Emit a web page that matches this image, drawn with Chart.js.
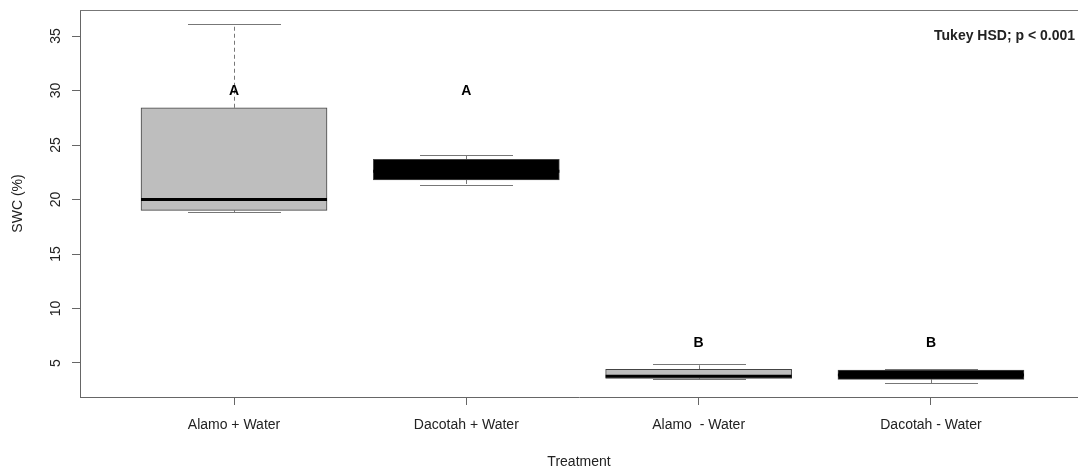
<!DOCTYPE html>
<html>
<head>
<meta charset="utf-8">
<script src="https://cdn.jsdelivr.net/npm/chart.js@4/dist/chart.umd.min.js"></script>
<style>
  html, body { margin: 0; padding: 0; background: #fff; }
  #wrap { width: 1078px; height: 472px; }
</style>
</head>
<body>
<div id="wrap"><canvas id="myChart"></canvas></div>
<script>
// treatments and their box statistics (SWC %)
const treatments = ['Alamo + Water', 'Dacotah + Water', 'Alamo  - Water', 'Dacotah - Water'];
const whiskerLow = [18.88, 21.36, 3.52, 3.17];
const quartile1  = [19.0, 21.79, 3.59, 3.5];
const medians    = [20.0, 22.6, 3.78, 3.9];
const quartile3  = [28.42, 23.68, 4.42, 4.36];
const whiskerHigh = [36.1, 24.08, 4.88, 4.42];
// Tukey groups and where their letters sit
const groupLetters = ['A', 'A', 'B', 'B'];
const letterY = [29.9, 29.9, 6.8, 6.8];
const yTicks = [5, 10, 15, 20, 25, 30, 35];

const boxFill = ['#bebebe', '#000000', '#bebebe', '#000000'];
const fontFamily = '"Liberation Sans", Arial, Helvetica, sans-serif';

const boxParts = {
  id: 'boxParts',
  beforeDatasetsDraw(chart) {
    const ctx = chart.ctx;
    const xs = chart.scales.x, ys = chart.scales.y;
    const meta = chart.getDatasetMeta(0);
    ctx.save();
    treatments.forEach(function(t, i){
      const x = Math.round(xs.getPixelForValue(i + 1)) + 0.5;
      const half = meta.data[i].width / 2;
      const cap = half / 2;
      const hi = Math.round(ys.getPixelForValue(whiskerHigh[i])) + 0.5;
      const lo = Math.round(ys.getPixelForValue(whiskerLow[i])) + 0.5;
      const q3 = ys.getPixelForValue(quartile3[i]);
      const q1 = ys.getPixelForValue(quartile1[i]);
      ctx.strokeStyle = '#777';
      ctx.lineWidth = 1;
      // dashed whiskers
      ctx.setLineDash([4, 3]);
      ctx.beginPath();
      ctx.moveTo(x, q3); ctx.lineTo(x, hi);
      ctx.moveTo(x, q1); ctx.lineTo(x, lo);
      ctx.stroke();
      // staples
      ctx.setLineDash([]);
      ctx.beginPath();
      ctx.moveTo(x - cap, hi); ctx.lineTo(x + cap, hi);
      ctx.moveTo(x - cap, lo); ctx.lineTo(x + cap, lo);
      ctx.stroke();
    });
    ctx.restore();
  },
  afterDatasetsDraw(chart) {
    const ctx = chart.ctx;
    const xs = chart.scales.x, ys = chart.scales.y;
    const area = chart.chartArea;
    const meta = chart.getDatasetMeta(0);
    ctx.save();
    treatments.forEach(function(t, i){
      const x = xs.getPixelForValue(i + 1);
      const half = meta.data[i].width / 2;
      const m = ys.getPixelForValue(medians[i]);
      ctx.strokeStyle = '#000';
      ctx.lineWidth = 3;
      ctx.beginPath();
      ctx.moveTo(x - half, m); ctx.lineTo(x + half, m);
      ctx.stroke();
      // group letter
      ctx.fillStyle = '#000';
      ctx.font = 'bold 14px ' + fontFamily;
      ctx.textAlign = 'center';
      ctx.textBaseline = 'middle';
      ctx.fillText(groupLetters[i], x, ys.getPixelForValue(letterY[i]));
    });
    ctx.fillStyle = '#222';
    ctx.font = 'bold 14px ' + fontFamily;
    ctx.textAlign = 'right';
    ctx.textBaseline = 'middle';
    ctx.fillText('Tukey HSD; p < 0.001', area.right - 3, area.top + 26);
    // plot frame
    ctx.strokeStyle = '#777';
    ctx.lineWidth = 1;
    ctx.beginPath();
    ctx.moveTo(area.left, area.top + 0.5);
    ctx.lineTo(area.right, area.top + 0.5);
    ctx.stroke();
    ctx.restore();
  }
};

window.addEventListener('load', function(){
  let ctx = document.getElementById('myChart');
  let myChart = new Chart(ctx, {
    type: 'bar',
    data: {
      datasets: [{
        data: treatments.map((t, i) => ({ x: i + 1, y: [quartile1[i], quartile3[i]] })),
        backgroundColor: boxFill,
        borderColor: '#444',
        borderWidth: 1,
        borderSkipped: false,
        barThickness: 186
      }]
    },
    plugins: [boxParts],
    options: {
      responsive: true,
      maintainAspectRatio: false,
      animation: false,
      layout: { padding: { top: 10, right: 0, left: 0, bottom: 0 } },
      plugins: {
        legend: { display: false },
        tooltip: { enabled: false }
      },
      scales: {
        x: {
          type: 'linear',
          offset: false,
          min: 0.337,
          max: 4.633,
          afterFit: function(scale){
            scale.height = 75;
            scale.paddingLeft = 0;
            scale.paddingRight = 0;
          },
          afterBuildTicks: function(scale){
            scale.ticks = treatments.map((t, i) => ({ value: i + 1 }));
          },
          ticks: {
            autoSkip: false,
            maxRotation: 0,
            padding: 12,
            color: '#222',
            font: { family: fontFamily, size: 14 },
            callback: function(v){ return treatments[v - 1]; }
          },
          grid: { drawOnChartArea: false, drawTicks: true, tickLength: 8, color: '#666', offset: false },
          border: { display: true, color: '#666' },
          title: {
            display: true,
            text: 'Treatment',
            color: '#222',
            font: { family: fontFamily, size: 14 },
            padding: { top: 0, bottom: 1 }
          }
        },
        y: {
          min: 1.88,
          max: 37.39,
          afterFit: function(scale){
            scale.width = 80;
            scale.paddingTop = 0;
            scale.paddingBottom = 0;
          },
          afterBuildTicks: function(scale){
            scale.ticks = yTicks.map(v => ({ value: v }));
          },
          ticks: {
            minRotation: 90,
            maxRotation: 90,
            crossAlign: 'center',
            padding: 8,
            color: '#222',
            font: { family: fontFamily, size: 14 }
          },
          grid: { drawOnChartArea: false, drawTicks: true, tickLength: 8, color: '#666' },
          border: { display: true, color: '#666' },
          title: {
            display: true,
            text: 'SWC (%)',
            color: '#222',
            font: { family: fontFamily, size: 14 },
            padding: { top: 10, bottom: 0 }
          }
        }
      }
    }
  });
});
</script>
</body>
</html>
